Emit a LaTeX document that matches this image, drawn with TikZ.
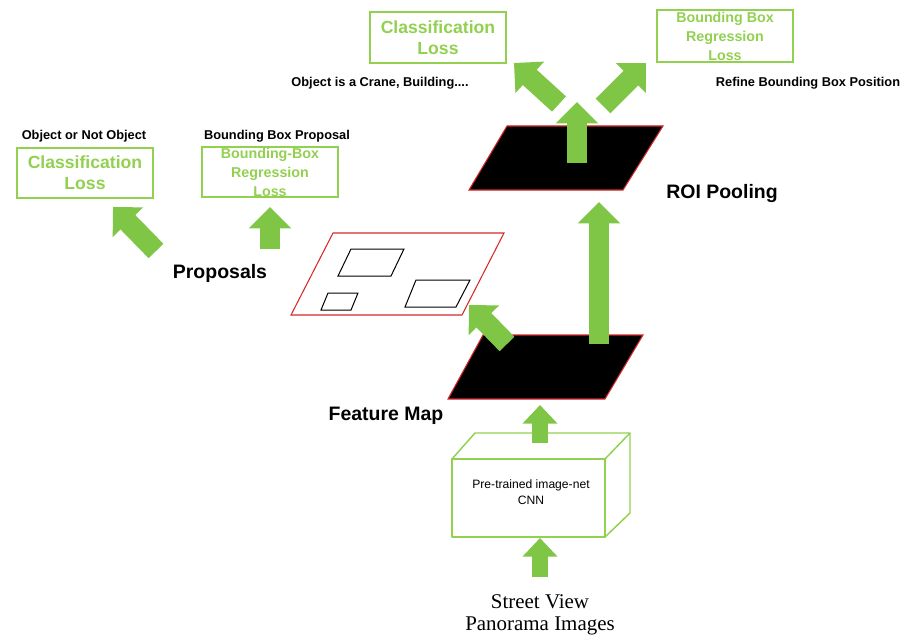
\documentclass[tikz,border=0pt]{standalone}
\usepackage{fontspec}
\setmainfont{Liberation Serif}
\setsansfont{Liberation Sans}
\usetikzlibrary{arrows.meta}
\definecolor{lossgreen}{RGB}{146,208,80}
\definecolor{arrowgreen}{RGB}{128,198,70}
\definecolor{mapred}{RGB}{215,40,40}

\begin{document}
\begin{tikzpicture}[x=0.75pt, y=-0.75pt,
    lossbox/.style={draw=lossgreen, line width=1.5pt, minimum width=102pt, minimum height=38pt, inner sep=0pt,
        text=lossgreen, align=center, font=\sffamily\bfseries\fontsize{13.2}{15.8}\selectfont},
    regbox/.style={lossbox, font=\sffamily\bfseries\fontsize{10.7}{14.2}\selectfont},
    caption/.style={font=\sffamily\bfseries\fontsize{9.6}{11.5}\selectfont, inner sep=0pt, anchor=base},
    stage/.style={font=\sffamily\bfseries\fontsize{14.6}{17}\selectfont, inner sep=0pt, anchor=base},
    garrow/.style={draw=arrowgreen, line width=15.5pt, -{Triangle[length=16pt, width=31pt]}},
    sgarrow/.style={draw=arrowgreen, line width=12.5pt, -{Triangle[length=14pt, width=25.5pt]}},
    fmap/.style={fill=black, draw=mapred, line width=0.8pt},
    cubeline/.style={draw=lossgreen, line width=1.1pt, line join=round},
    ]
    \useasboundingbox (0,0) rectangle (911,635);

    % region proposal losses
    \node[caption] (objnot) at (84,139) {Object or Not Object};
    \node[caption] (bbprop) at (277,139) {Bounding Box Proposal};
    \node[lossbox] (rpncls) at (85,173) {Classification\\Loss};
    \node[regbox] (rpnreg) at (270,172) {Bounding-Box\\Regression\\Loss};

    % detection losses
    \node[caption] (objis) at (380,87) {Object is a Crane, Building....};
    \node[caption] (refine) at (808,87) {Refine Bounding Box Position};
    \node[lossbox] (detcls) at (438,37.5) {Classification\\Loss};
    \node[regbox, minimum height=39pt] (detreg) at (725,36) {Bounding Box\\Regression\\Loss};

    % proposals
    \draw[mapred, line width=0.8pt] (333,233) -- (504,233) -- (462,315) -- (291,315) -- cycle;
    \draw[line width=0.75pt] (351,249) -- (404,249) -- (391,276) -- (338,276) -- cycle;
    \draw[line width=0.75pt] (328,293) -- (358,293) -- (351,310) -- (321,310) -- cycle;
    \draw[line width=0.75pt] (416,280) -- (470,280) -- (456,307) -- (405,307) -- cycle;
    \node[stage] (proposals) at (220,278) {Proposals};

    % feature map and ROI pooling
    \draw[fmap] (483,335) -- (643,335) -- (605,399) -- (448,399) -- cycle;
    \draw[fmap] (507,126) -- (663,126) -- (623,190) -- (469,190) -- cycle;
    \node[stage] (fmaplabel) at (386,420) {Feature Map};
    \node[stage] (roilabel) at (722,198) {ROI Pooling};

    % CNN block
    \draw[cubeline] (452,459) rectangle (605,537);
    \draw[cubeline] (452,459) -- (475,433) -- (630,433) -- (605,459);
    \draw[cubeline] (630,433) -- (630,513) -- (605,537);
    \node[font=\sffamily\fontsize{9.1}{12}\selectfont, align=center, inner sep=0pt] (cnn) at (531,492) {Pre-trained image-net\\CNN};
    \node[font=\rmfamily\fontsize{15.7}{16.5}\selectfont, align=center, inner sep=0pt] (images) at (540,615) {Street View\\Panorama Images};

    \coordinate (imgTail) at (540,577);
    \coordinate (cnnIn) at (540,538);
    \coordinate (cnnOut) at (540,443);
    \coordinate (fmapIn) at (540,405);
    \coordinate (fmapProp) at (507,344);
    \coordinate (propIn) at (469,305);
    \coordinate (fmapRoi) at (599,344);
    \coordinate (roiIn) at (599,202);
    \coordinate (roiOut) at (577,163);
    \coordinate (roiTop) at (577,102);
    \coordinate (clsTail) at (559,104);
    \coordinate (clsTip) at (514,63);
    \coordinate (regTail) at (603,106);
    \coordinate (regTip) at (646,63);
    \coordinate (rpnclsTail) at (156,251);
    \coordinate (rpnclsTip) at (113,207);
    \coordinate (rpnregTail) at (270,249);
    \coordinate (rpnregTip) at (270,207);

    \draw[sgarrow] (imgTail) -- (cnnIn);
    \draw[sgarrow] (cnnOut) -- (fmapIn);
    \draw[garrow] (fmapProp) -- (propIn);
    \draw[garrow] (fmapRoi) -- (roiIn);
    \draw[garrow] (roiOut) -- (roiTop);
    \draw[garrow] (clsTail) -- (clsTip);
    \draw[garrow] (regTail) -- (regTip);
    \draw[garrow] (rpnclsTail) -- (rpnclsTip);
    \draw[garrow] (rpnregTail) -- (rpnregTip);
\end{tikzpicture}
\end{document}
